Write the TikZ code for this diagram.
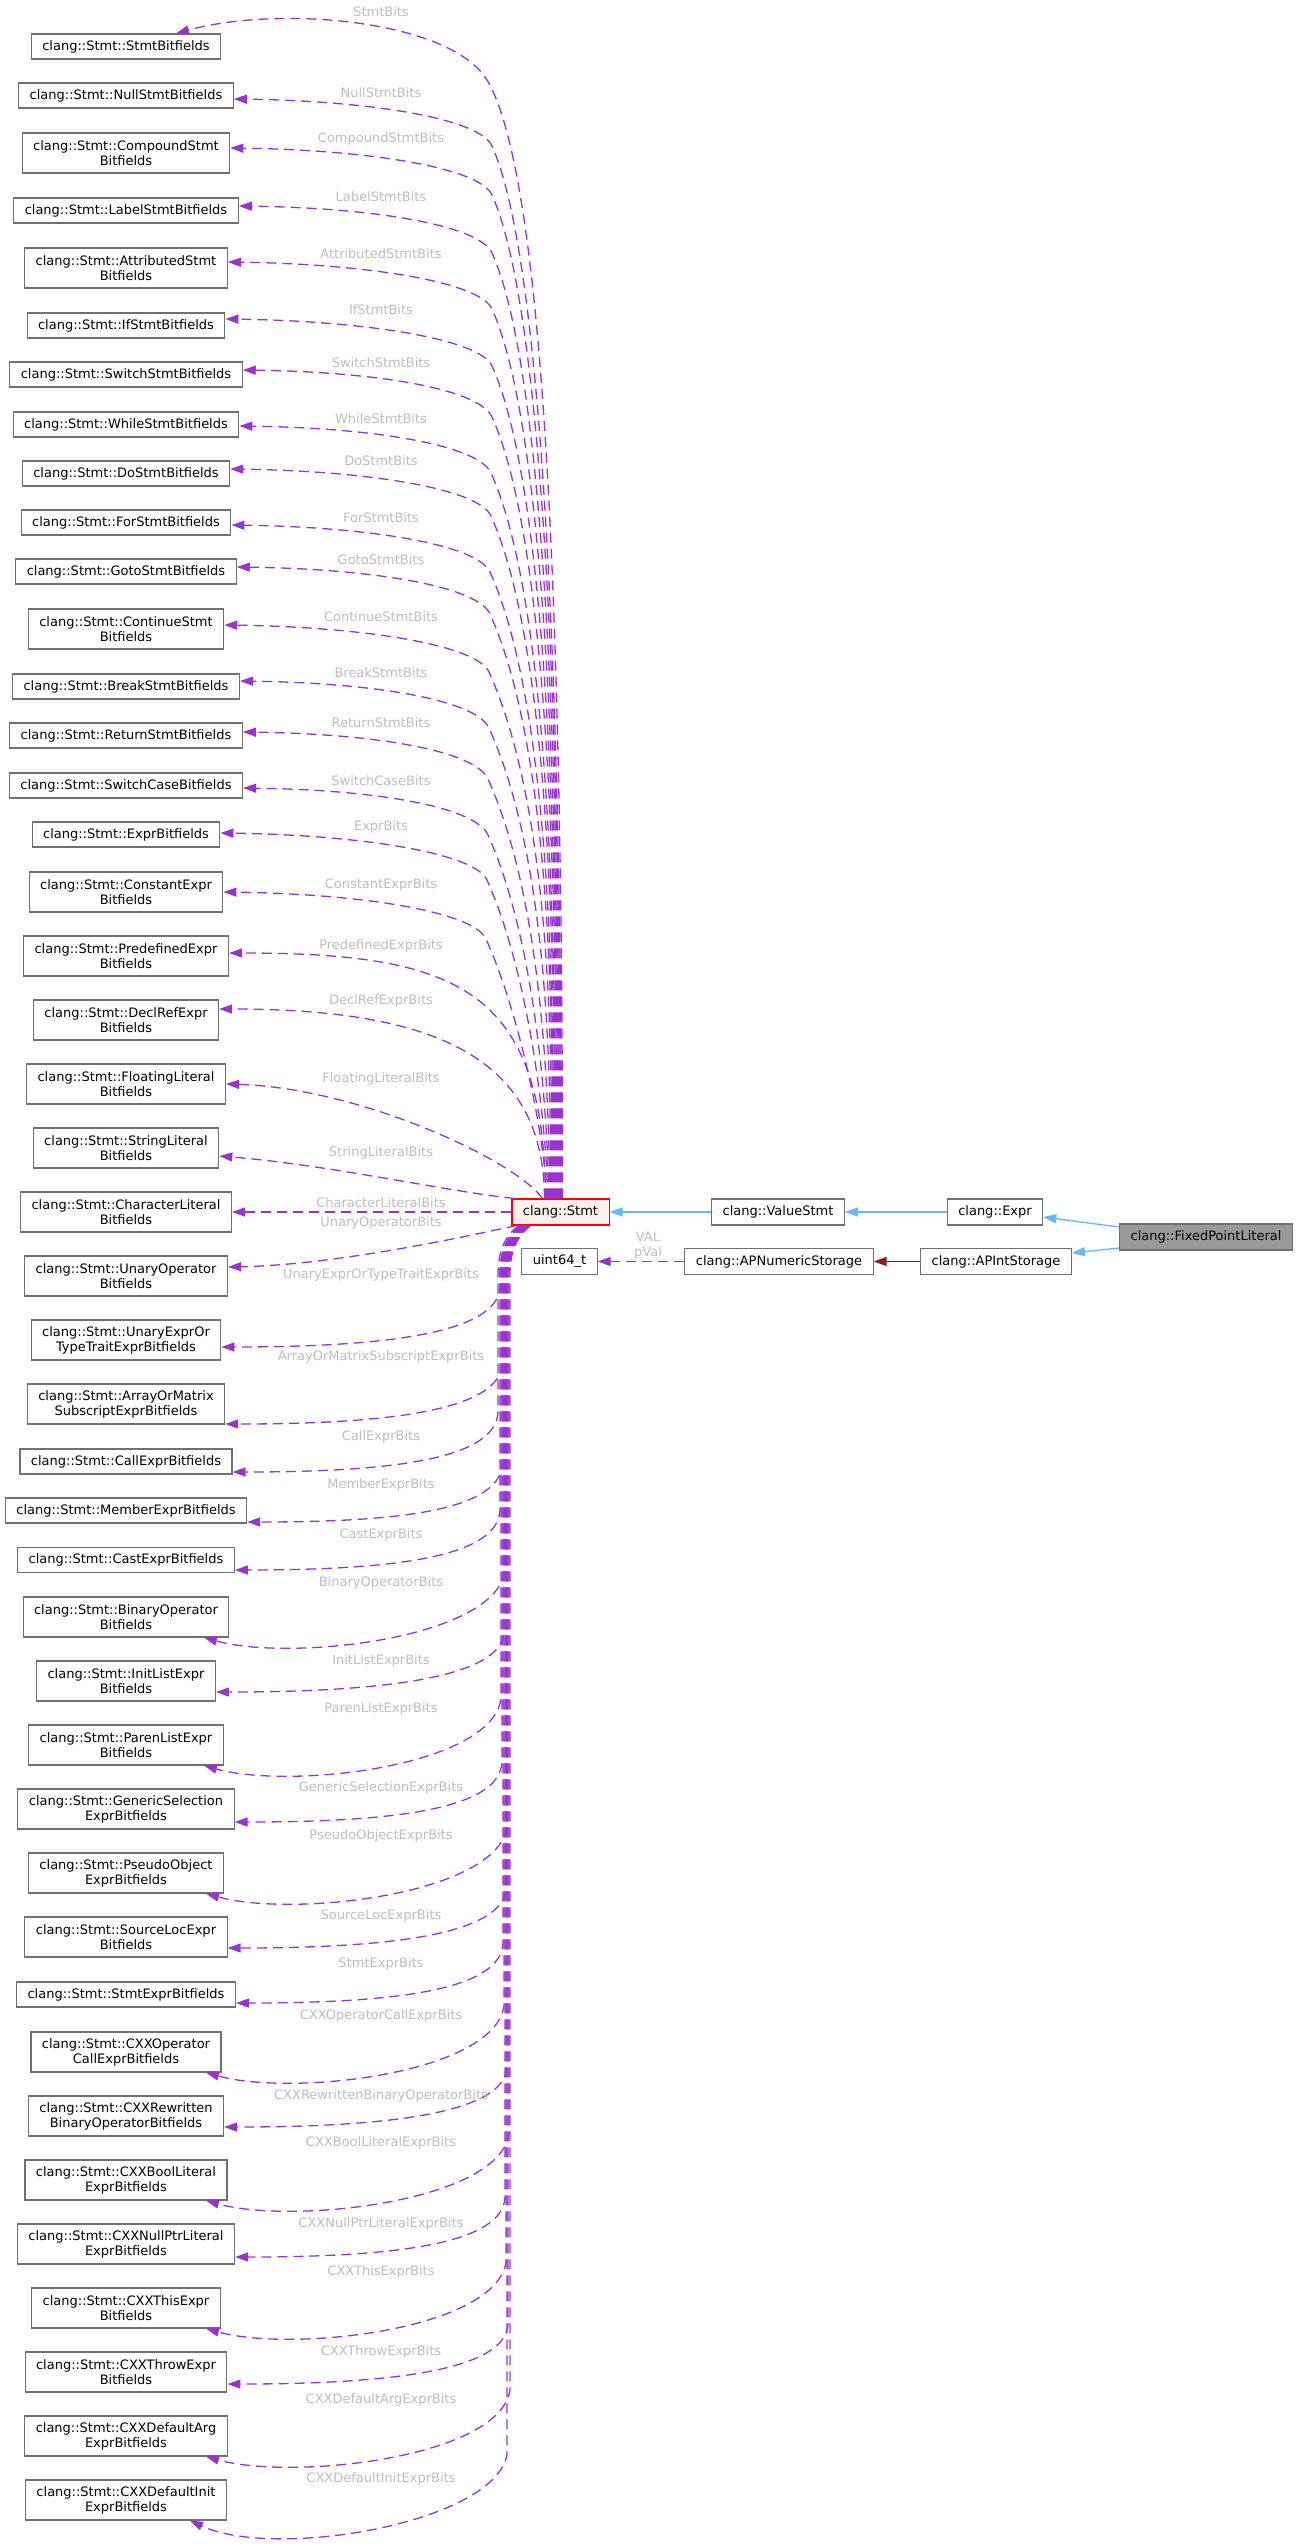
\documentclass[tikz,border=0pt]{standalone}
\usepackage{fontspec}
\setmainfont{DejaVu Sans}
\usetikzlibrary{
  calc, % Koordinatenrechnung
  arrows.meta % Pfeilspitzen
}

% Farben
\definecolor{usagecol}{HTML}{9A32CD}
\definecolor{inhcol}{HTML}{63B8FF}
\definecolor{privcol}{HTML}{8B1A1A}
\definecolor{boxgray}{HTML}{707070}
\definecolor{lblgray}{HTML}{BEBEBE}
\definecolor{stmtfill}{HTML}{FFF0F0}
\definecolor{fplfill}{HTML}{999999}

\newcommand{\nodefont}{\fontsize{13}{15}\selectfont}

\begin{document}
\begin{tikzpicture}[
    x=1pt, y=-1pt, % Pixelkoordinaten, y nach unten
    >={Triangle[length=13pt, width=9pt]},
    box/.style={draw=boxgray, fill=white, line width=1.1pt, font=\nodefont,
      inner xsep=11pt, inner ysep=0pt, align=center},
    lbl/.style={text=lblgray, font=\nodefont, inner sep=0pt, align=center},
    usage/.style={usagecol, line width=1.3pt, dash pattern=on 10pt off 6pt, ->},
    inherit/.style={inhcol, line width=1.3pt, ->},
    privinh/.style={privcol, line width=1.3pt, ->},
  ]

  \path[use as bounding box, fill=white] (0,0) rectangle (1299,2548);

  % Bitfeld-Klassen links
  \foreach \n/\y/\h/\txt in {
    sbits/46.5/25/{clang::Stmt::StmtBitfields},
    nullb/95.5/25/{clang::Stmt::NullStmtBitfields},
    compb/153/40/{clang::Stmt::CompoundStmt\\Bitfields},
    labelb/210.5/25/{clang::Stmt::LabelStmtBitfields},
    attrb/268/40/{clang::Stmt::AttributedStmt\\Bitfields},
    ifb/325.5/25/{clang::Stmt::IfStmtBitfields},
    switchb/374.5/25/{clang::Stmt::SwitchStmtBitfields},
    whileb/424.5/25/{clang::Stmt::WhileStmtBitfields},
    dob/473.5/25/{clang::Stmt::DoStmtBitfields},
    forb/522.5/25/{clang::Stmt::ForStmtBitfields},
    gotob/571.5/25/{clang::Stmt::GotoStmtBitfields},
    contb/629/40/{clang::Stmt::ContinueStmt\\Bitfields},
    breakb/686.5/25/{clang::Stmt::BreakStmtBitfields},
    retb/735.5/25/{clang::Stmt::ReturnStmtBitfields},
    caseb/785.5/25/{clang::Stmt::SwitchCaseBitfields},
    exprb/834.5/25/{clang::Stmt::ExprBitfields},
    constb/892/40/{clang::Stmt::ConstantExpr\\Bitfields},
    predefb/956/40/{clang::Stmt::PredefinedExpr\\Bitfields},
    declrefb/1020/40/{clang::Stmt::DeclRefExpr\\Bitfields},
    floatb/1084/40/{clang::Stmt::FloatingLiteral\\Bitfields},
    stringb/1148/40/{clang::Stmt::StringLiteral\\Bitfields},
    charb/1212/40/{clang::Stmt::CharacterLiteral\\Bitfields},
    unopb/1276/40/{clang::Stmt::UnaryOperator\\Bitfields},
    unexprb/1340/40/{clang::Stmt::UnaryExprOr\\TypeTraitExprBitfields},
    arrayb/1404/40/{clang::Stmt::ArrayOrMatrix\\SubscriptExprBitfields},
    callb/1461.5/25/{clang::Stmt::CallExprBitfields},
    memberb/1510.5/25/{clang::Stmt::MemberExprBitfields},
    castb/1560/25/{clang::Stmt::CastExprBitfields},
    binopb/1617/40/{clang::Stmt::BinaryOperator\\Bitfields},
    initb/1681/40/{clang::Stmt::InitListExpr\\Bitfields},
    parenb/1745/40/{clang::Stmt::ParenListExpr\\Bitfields},
    genselb/1809/40/{clang::Stmt::GenericSelection\\ExprBitfields},
    pseudob/1873/40/{clang::Stmt::PseudoObject\\ExprBitfields},
    srclocb/1937/40/{clang::Stmt::SourceLocExpr\\Bitfields},
    stmtexprb/1994.5/25/{clang::Stmt::StmtExprBitfields},
    opcallb/2052/40/{clang::Stmt::CXXOperator\\CallExprBitfields},
    rewrb/2116/40/{clang::Stmt::CXXRewritten\\BinaryOperatorBitfields},
    boolb/2180/40/{clang::Stmt::CXXBoolLiteral\\ExprBitfields},
    nullptrb/2244/40/{clang::Stmt::CXXNullPtrLiteral\\ExprBitfields},
    thisb/2308/40/{clang::Stmt::CXXThisExpr\\Bitfields},
    throwb/2372/40/{clang::Stmt::CXXThrowExpr\\Bitfields},
    defargb/2436/40/{clang::Stmt::CXXDefaultArg\\ExprBitfields},
    definitb/2500/40/{clang::Stmt::CXXDefaultInit\\ExprBitfields}}
  \node[box, minimum height=\h*1pt] (\n) at (126,\y) {\txt};

  % Klassen rechts
  \node[box, draw=red, fill=stmtfill, minimum height=26] (stmt) at (560.5,1212) {clang::Stmt};
  \node[box, minimum height=26] (vstmt) at (778,1212) {clang::ValueStmt};
  \node[box, minimum height=26] (expr) at (995,1212) {clang::Expr};
  \node[box, fill=fplfill, minimum height=26] (fpl) at (1206,1237) {clang::FixedPointLiteral};
  \node[box, minimum height=26] (uint) at (559.5,1261.5) {uint64\_t};
  \node[box, minimum height=26] (apnum) at (779,1261.5) {clang::APNumericStorage};
  \node[box, minimum height=26] (apint) at (996,1261.5) {clang::APIntStorage};

  % Vererbung
  \draw[inherit] (expr.west) -- (vstmt.east);
  \draw[inherit] (vstmt.west) -- (stmt.east);
  \draw[inherit] ($(fpl.west)+(0,-10)$) -- ($(expr.east)+(0,5)$);
  \draw[inherit] ($(fpl.west)+(0,11)$) -- ($(apint.east)+(0,-8.5)$);
  \draw[privinh] (apint.west) -- (apnum.east);

  % Benutzung
  \draw[usage] (apnum.west) -- (uint.east);
  \node[lbl] (vallbl) at (648,1246) {VAL\\pVal};

  % Kanten nach oben
  \draw[usage] ($(stmt.north)+(2,0)$) .. controls (562.5,650) and (547,180) .. (487,80)
    .. controls (450,20) and (280,5) .. ($(sbits.north)+(50,0)$);
  \foreach \n/\y/\dy/\xk/\xs in {
    nullb/95.5/3.5/492/1, compb/153/-5/492/0, labelb/210.5/-4.5/492/-1,
    attrb/268/-6/492/-2, ifb/325.5/-6.5/492/-3, switchb/374.5/-4.5/492/-4,
    whileb/424.5/1.5/491/-5, dob/473.5/-4.5/491/-6, forb/522.5/2.5/490/-7,
    gotob/571.5/-4.5/490/-8, contb/629/-4/489/-9, breakb/686.5/-5.5/489/-10,
    retb/735.5/-3.5/488/-11, caseb/785.5/2.5/488/-12, exprb/834.5/-1.5/487/-13,
    constb/892/0/486/-14}{
    \pgfmathsetmacro\yk{\y+\dy+47}
    \pgfmathsetmacro\len{1199-\yk}
    \pgfmathsetmacro\dd{min(0.3*\len,150)}
    \draw[usage] ($(stmt.north)+(\xs,0)$) .. controls ($(stmt.north)+(\xs,-0.2*\len)$)
      and (\xk+0.45*\dd,\yk+\dd) .. (\xk,\yk)
      .. controls (\xk-12,\yk-27) and ($(\n.east)+(140,\dy+2)$) .. ($(\n.east)+(0,\dy)$);
  }
  \draw[usage] ($(stmt.north)+(-15,0)$) .. controls (544,990) and (460,953) .. ($(predefb.east)+(0,-3)$);
  \draw[usage] ($(stmt.north)+(-16,0)$) .. controls (544,1060) and (440,1009) .. ($(declrefb.east)+(0,-11)$);
  \draw[usage] ($(stmt.north)+(-18,0)$) .. controls (515,1160) and (360,1088) .. (floatb.east);
  \draw[usage] ($(stmt.north west)+(3,0)$) .. controls (450,1192) and (330,1165) .. ($(stringb.east)+(0,8)$);
  \draw[usage] (stmt.west) -- (charb.east);

  % Kanten nach unten
  \draw[usage] ($(stmt.south)+(-44,0)$) .. controls (450,1240) and (330,1265) .. ($(unopb.east)+(0,-9)$);
  \foreach \n/\y/\dy/\xb in {
    unexprb/1340/7/500, arrayb/1404/20/502, callb/1461.5/10.5/498,
    memberb/1510.5/11.5/503, castb/1560/10/500, initb/1681/11/504,
    genselb/1809/13/502, srclocb/1937/11/506, stmtexprb/1994.5/8.5/503,
    rewrb/2116/11/507, nullptrb/2244/13/505, throwb/2372/12/508}{
    \pgfmathsetmacro\ty{\y+\dy}
    \draw[usage] ($(stmt.south)+(\xb-540,0)$) .. controls ($(stmt.south)+(\xb-552,10)$)
      and (\xb,1248) .. (\xb,1275) -- (\xb,\ty-60)
      .. controls (\xb-2,\ty-15) and ($(\n.east)+(170,\dy)$) .. ($(\n.east)+(0,\dy)$);
  }
  \foreach \n/\y/\tx/\xb/\dep in {
    binopb/1617/78/505/24, parenb/1745/78/501/24, pseudob/1873/80/507/24,
    opcallb/2052/80/504/24, boolb/2180/80/509/24, thisb/2308/80/506/24,
    defargb/2436/80/510/24, definitb/2500/64/507/40}{
    \pgfmathsetmacro\ty{\y+20}
    \draw[usage] ($(stmt.south)+(\xb-540,0)$) .. controls ($(stmt.south)+(\xb-552,10)$)
      and (\xb,1248) .. (\xb,1275) -- (\xb,\ty-66)
      .. controls (\xb-10,\ty+2) and ($(\n.south)+(\tx+86,\dep)$) .. ($(\n.south)+(\tx,0)$);
  }

  % Beschriftungen
  \foreach \txt/\ly in {
    StmtBits/12, NullStmtBits/93, CompoundStmtBits/139, LabelStmtBits/197,
    AttributedStmtBits/254, IfStmtBits/310, SwitchStmtBits/363, WhileStmtBits/419,
    DoStmtBits/461, ForStmtBits/518, GotoStmtBits/560, ContinueStmtBits/617,
    BreakStmtBits/673, ReturnStmtBits/723, SwitchCaseBits/781, ExprBits/827,
    ConstantExprBits/885, PredefinedExprBits/946, DeclRefExprBits/1001,
    FloatingLiteralBits/1079, StringLiteralBits/1153, CharacterLiteralBits/1203,
    UnaryOperatorBits/1223, UnaryExprOrTypeTraitExprBits/1275,
    ArrayOrMatrixSubscriptExprBits/1357, CallExprBits/1437, MemberExprBits/1485,
    CastExprBits/1535, BinaryOperatorBits/1583, InitListExprBits/1661,
    ParenListExprBits/1709, GenericSelectionExprBits/1788, PseudoObjectExprBits/1836,
    SourceLocExprBits/1916, StmtExprBits/1964, CXXOperatorCallExprBits/2016,
    CXXRewrittenBinaryOperatorBits/2096, CXXBoolLiteralExprBits/2143,
    CXXNullPtrLiteralExprBits/2224, CXXThisExprBits/2272, CXXThrowExprBits/2352,
    CXXDefaultArgExprBits/2400, CXXDefaultInitExprBits/2479}
  \node[lbl] (lab\txt) at (381,\ly) {\txt};
\end{tikzpicture}
\end{document}
